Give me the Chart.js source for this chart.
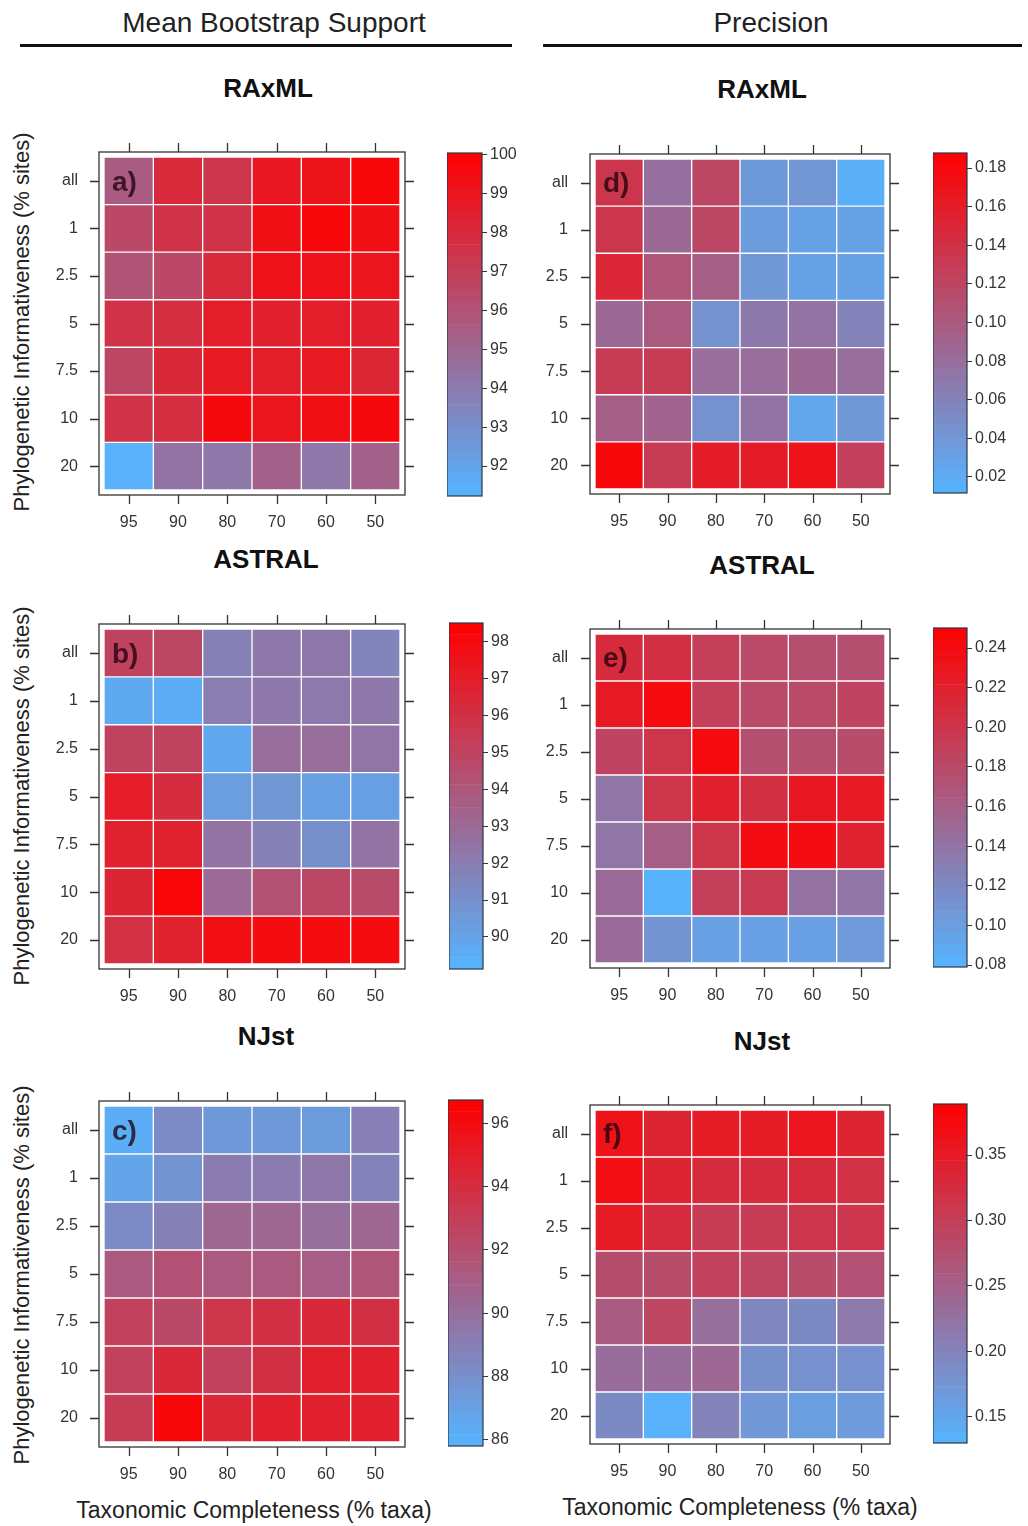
<!DOCTYPE html>
<html>
<head>
<meta charset="utf-8">
<script src="https://cdn.jsdelivr.net/npm/chart.js@4.4.0/dist/chart.umd.min.js"></script>
<style>
  body { margin: 0; background: #fff; }
  #page { position: relative; width: 1028px; height: 1526px; overflow: hidden; font-family: "Liberation Sans", Arial, sans-serif; }
  .head { position: absolute; width: 400px; font-size: 28px; line-height: 30px; color: #222; text-align: center; }
  .rule { position: absolute; top: 44px; height: 3px; background: #111; }
  .ptitle { position: absolute; width: 200px; font-size: 26px; line-height: 28px; font-weight: bold; color: #111; text-align: center; }
  .xlab { position: absolute; width: 500px; font-size: 23px; line-height: 26px; color: #222; text-align: center; }
  .ylab { position: absolute; width: 500px; font-size: 22px; line-height: 24px; color: #222; text-align: center; transform: rotate(-90deg); }
  .box { position: absolute; }
</style>
</head>
<body>
<div id="page">
  <div class="head" style="left:74px; top:8px;">Mean Bootstrap Support</div>
  <div class="head" style="left:571px; top:8px;">Precision</div>
  <div class="rule" style="left:20px; width:492px;"></div>
  <div class="rule" style="left:543px; width:479px;"></div>
  <div class="ylab" style="left:-228px; top:310px;">Phylogenetic Informativeness (% sites)</div>
  <div class="ylab" style="left:-228px; top:784px;">Phylogenetic Informativeness (% sites)</div>
  <div class="ylab" style="left:-228px; top:1263px;">Phylogenetic Informativeness (% sites)</div>
  <div class="xlab" style="left:4px; top:1497px;">Taxonomic Completeness (% taxa)</div>
  <div class="xlab" style="left:490px; top:1494px;">Taxonomic Completeness (% taxa)</div>
</div>
<script>
Chart.defaults.font.family = '"Liberation Sans", Arial, sans-serif';
Chart.defaults.color = '#333';

// categories
var taxa = ['95', '90', '80', '70', '60', '50'];
var sites = ['all', '1', '2.5', '5', '7.5', '10', '20'];

// mean bootstrap support (rows = sites, cols = taxa)
var raxmlSupport = [
  [95.6, 98.0, 97.4, 98.9, 99.1, 99.7],
  [96.5, 97.6, 97.6, 99.3, 99.7, 99.3],
  [96.0, 96.5, 98.0, 99.2, 99.2, 99.0],
  [97.6, 97.8, 98.6, 98.5, 98.6, 98.5],
  [96.6, 98.1, 98.8, 98.6, 98.8, 98.2],
  [97.6, 97.8, 99.6, 99.0, 99.3, 99.6],
  [91.4, 94.4, 94.2, 95.3, 94.2, 95.3]
];
var astralSupport = [
  [95.0, 94.8, 91.8, 92.3, 92.3, 91.6],
  [89.7, 89.5, 92.0, 92.3, 92.2, 92.3],
  [95.0, 95.0, 89.8, 92.8, 92.8, 92.4],
  [97.0, 96.2, 90.3, 90.7, 90.2, 90.2],
  [96.8, 96.8, 92.5, 91.8, 91.0, 92.5],
  [96.6, 98.2, 93.0, 94.3, 94.8, 94.6],
  [96.0, 96.8, 97.8, 97.9, 97.9, 97.9]
];
var njstSupport = [
  [86.2, 88.3, 87.5, 87.5, 87.3, 89.0],
  [86.8, 87.8, 89.2, 89.2, 89.5, 88.8],
  [88.3, 88.9, 90.5, 90.5, 90.0, 90.5],
  [91.3, 91.8, 91.3, 91.3, 91.0, 91.6],
  [92.8, 92.3, 93.5, 93.8, 94.3, 93.8],
  [92.8, 94.3, 92.8, 93.8, 94.8, 94.8],
  [93.1, 96.3, 94.4, 94.8, 94.8, 94.8]
];

// precision
var raxmlPrecision = [
  [0.135, 0.078, 0.118, 0.038, 0.042, 0.017],
  [0.135, 0.085, 0.118, 0.035, 0.030, 0.030],
  [0.150, 0.105, 0.095, 0.040, 0.030, 0.030],
  [0.085, 0.100, 0.045, 0.070, 0.075, 0.060],
  [0.130, 0.130, 0.080, 0.080, 0.085, 0.080],
  [0.095, 0.090, 0.045, 0.075, 0.025, 0.040],
  [0.180, 0.130, 0.160, 0.160, 0.170, 0.125]
];
var astralPrecision = [
  [0.209, 0.205, 0.190, 0.180, 0.175, 0.175],
  [0.225, 0.240, 0.190, 0.180, 0.180, 0.185],
  [0.185, 0.200, 0.240, 0.175, 0.175, 0.178],
  [0.138, 0.200, 0.220, 0.205, 0.228, 0.225],
  [0.138, 0.160, 0.200, 0.238, 0.238, 0.218],
  [0.148, 0.082, 0.190, 0.195, 0.142, 0.138],
  [0.148, 0.110, 0.098, 0.098, 0.098, 0.105]
];
var njstPrecision = [
  [0.363, 0.337, 0.350, 0.350, 0.358, 0.337],
  [0.368, 0.337, 0.327, 0.327, 0.327, 0.319],
  [0.350, 0.327, 0.303, 0.303, 0.311, 0.311],
  [0.278, 0.280, 0.296, 0.288, 0.280, 0.272],
  [0.258, 0.288, 0.230, 0.195, 0.190, 0.215],
  [0.232, 0.232, 0.240, 0.182, 0.180, 0.180],
  [0.190, 0.135, 0.200, 0.172, 0.162, 0.166]
];

// colour key limits and tick labels
var raxmlSupportRange = [91.23, 100.05];
var astralSupportRange = [89.13, 98.51];
var njstSupportRange = [85.81, 96.73];
var raxmlPrecisionRange = [0.0117, 0.1878];
var astralPrecisionRange = [0.079, 0.2501];
var njstPrecisionRange = [0.130, 0.389];

var raxmlSupportTicks = [92, 93, 94, 95, 96, 97, 98, 99, 100];
var astralSupportTicks = [90, 91, 92, 93, 94, 95, 96, 97, 98];
var njstSupportTicks = [86, 88, 90, 92, 94, 96];
var raxmlPrecisionTicks = [0.02, 0.04, 0.06, 0.08, 0.10, 0.12, 0.14, 0.16, 0.18];
var astralPrecisionTicks = [0.08, 0.10, 0.12, 0.14, 0.16, 0.18, 0.20, 0.22, 0.24];
var njstPrecisionTicks = [0.15, 0.20, 0.25, 0.30, 0.35];

var panels = [
  { letter: 'a)', title: 'RAxML', values: raxmlSupport, range: raxmlSupportRange, ticks: raxmlSupportTicks, digits: 0,
    right: false, cells: [104, 157, 400, 490], bar: [447, 153, 35, 343], tpos: [268, 88.5] },
  { letter: 'b)', title: 'ASTRAL', values: astralSupport, range: astralSupportRange, ticks: astralSupportTicks, digits: 0,
    right: false, cells: [104, 629, 400, 964], bar: [449, 623, 34, 346], tpos: [266, 560] },
  { letter: 'c)', title: 'NJst', values: njstSupport, range: njstSupportRange, ticks: njstSupportTicks, digits: 0,
    right: false, cells: [104, 1106, 400, 1442], bar: [448, 1100, 35, 346], tpos: [266, 1037] },
  { letter: 'd)', title: 'RAxML', values: raxmlPrecision, range: raxmlPrecisionRange, ticks: raxmlPrecisionTicks, digits: 2,
    right: true, cells: [595, 159, 885, 489], bar: [933, 153, 34, 340], tpos: [762, 90] },
  { letter: 'e)', title: 'ASTRAL', values: astralPrecision, range: astralPrecisionRange, ticks: astralPrecisionTicks, digits: 2,
    right: true, cells: [595, 634, 885, 963], bar: [933, 628, 34, 339], tpos: [762, 566] },
  { letter: 'f)', title: 'NJst', values: njstPrecision, range: njstPrecisionRange, ticks: njstPrecisionTicks, digits: 2,
    right: true, cells: [595, 1110, 885, 1439], bar: [933, 1104, 34, 339], tpos: [762, 1042] }
];

var page = document.getElementById('page');

// blue -> red ramp
function rampColor(v, range) {
  var t = (v - range[0]) / (range[1] - range[0]);
  t = Math.max(0, Math.min(1, t));
  var r = Math.round(85 + t * (255 - 85));
  var g = Math.round(180 - t * 180);
  var b = Math.round(255 - t * 255);
  return 'rgb(' + r + ',' + g + ',' + b + ')';
}

function addCanvas(left, top, w, h) {
  var div = document.createElement('div');
  div.className = 'box';
  div.style.left = left + 'px';
  div.style.top = top + 'px';
  div.style.width = w + 'px';
  div.style.height = h + 'px';
  var cv = document.createElement('canvas');
  cv.width = w;
  cv.height = h;
  div.appendChild(cv);
  page.appendChild(div);
  return cv;
}

// panel frame, lattice style ticks and the panel letter
var framePlugin = {
  id: 'frame',
  afterDraw: function (chart, args, opts) {
    var a = chart.chartArea, ctx = chart.ctx, g = 5, tl = 9;
    var xs = chart.scales.x, ys = chart.scales.y;
    ctx.save();
    ctx.strokeStyle = '#333';
    ctx.lineWidth = 1.3;
    ctx.strokeRect(a.left - g, a.top - g, a.right - a.left + 2 * g, a.bottom - a.top + 2 * g);
    ctx.beginPath();
    taxa.forEach(function (c, i) {
      var px = Math.round(xs.getPixelForTick(i)) + 0.5;
      ctx.moveTo(px, a.top - g); ctx.lineTo(px, a.top - g - tl);
      ctx.moveTo(px, a.bottom + g); ctx.lineTo(px, a.bottom + g + tl);
    });
    sites.forEach(function (s, i) {
      var py = Math.round(ys.getPixelForValue(i + 0.5)) + 0.5;
      ctx.moveTo(a.left - g, py); ctx.lineTo(a.left - g - tl, py);
      ctx.moveTo(a.right + g, py); ctx.lineTo(a.right + g + tl, py);
    });
    ctx.stroke();
    ctx.font = 'bold 28px "Liberation Sans", Arial, sans-serif';
    ctx.fillStyle = 'rgba(25,0,10,0.75)';
    ctx.textBaseline = 'middle';
    ctx.fillText(opts.letter, a.left + 8, ys.getPixelForValue(0.5) + 2);
    ctx.restore();
  }
};

var keyFrame = {
  id: 'keyFrame',
  afterDraw: function (chart) {
    var a = chart.chartArea, ctx = chart.ctx;
    ctx.save();
    ctx.strokeStyle = '#2d3446';
    ctx.lineWidth = 1.2;
    ctx.strokeRect(a.left, a.top, a.right - a.left, a.bottom - a.top);
    ctx.restore();
  }
};

function makeHeatmap(p) {
  var c = p.cells;
  var left = p.right ? 500 : 0;
  var topPad = 40; // must exceed half label height + tick padding
  var xH = 50;
  var yW = c[0] - left;
  var w = c[2] + 20 - left;
  var h = topPad + (c[3] - c[1]) + xH;
  var cv = addCanvas(left, c[1] - topPad, w, h);

  var datasets = sites.map(function (s, r) {
    return {
      label: s,
      data: taxa.map(function () { return [r, r + 1]; }),
      backgroundColor: p.values[r].map(function (v) { return rampColor(v, p.range); }),
      borderColor: 'rgba(255,255,255,0.08)',
      borderWidth: 1,
      borderSkipped: false,
      grouped: false,
      barPercentage: 1,
      categoryPercentage: 1
    };
  });

  new Chart(cv, {
    type: 'bar',
    data: { labels: taxa, datasets: datasets },
    options: {
      responsive: false,
      animation: false,
      devicePixelRatio: 1,
      events: [],
      layout: { padding: { top: topPad, right: 20, bottom: 0, left: 0 } },
      plugins: { legend: { display: false }, tooltip: { enabled: false }, frame: { letter: p.letter } },
      scales: {
        x: {
          grid: { display: false, drawTicks: false },
          border: { display: false },
          ticks: { padding: 23, font: { size: 16 }, color: '#333', maxRotation: 0 },
          afterFit: function (s) { s.height = xH; }
        },
        y: {
          type: 'linear',
          min: 0,
          max: 7,
          reverse: true,
          grid: { display: false, drawTicks: false },
          border: { display: false },
          afterBuildTicks: function (s) {
            s.ticks = sites.map(function (x, i) { return { value: i + 0.5 }; });
          },
          ticks: {
            autoSkip: false,
            padding: p.right ? 27 : 26,
            font: { size: 16 },
            color: '#333',
            callback: function (v) { return sites[Math.floor(v)]; }
          },
          afterFit: function (s) { s.width = yW; }
        }
      }
    },
    plugins: [framePlugin]
  });
}

function makeKey(p) {
  var b = p.bar, pad = 16, steps = 30;
  var cv = addCanvas(b[0], b[1] - pad, b[2] + 70, b[3] + 2 * pad);
  var lo = p.range[0], hi = p.range[1];
  var datasets = [];
  for (var k = 0; k < steps; k++) {
    var y0 = lo + (hi - lo) * k / steps;
    var y1 = lo + (hi - lo) * (k + 1) / steps;
    datasets.push({
      data: [[y0, y1]],
      backgroundColor: rampColor((y0 + y1) / 2, p.range),
      borderWidth: 0,
      grouped: false,
      barPercentage: 1,
      categoryPercentage: 1
    });
  }
  new Chart(cv, {
    type: 'bar',
    data: { labels: [''], datasets: datasets },
    options: {
      responsive: false,
      animation: false,
      devicePixelRatio: 1,
      events: [],
      layout: { padding: { top: pad, bottom: pad, left: 0, right: 0 } },
      plugins: { legend: { display: false }, tooltip: { enabled: false } },
      scales: {
        x: { display: false },
        y: {
          position: 'right',
          min: lo,
          max: hi,
          grid: { drawOnChartArea: false, drawTicks: true, tickLength: 5, color: '#333' },
          border: { display: false },
          afterBuildTicks: function (s) {
            s.ticks = p.ticks.map(function (v) { return { value: v }; });
          },
          ticks: {
            autoSkip: false,
            padding: 3,
            font: { size: 16 },
            color: '#333',
            callback: function (v) { return Number(v).toFixed(p.digits); }
          },
          afterFit: function (s) { s.width = 70; }
        }
      }
    },
    plugins: [keyFrame]
  });
}

panels.forEach(function (p) {
  var t = document.createElement('div');
  t.className = 'ptitle';
  t.textContent = p.title;
  t.style.left = (p.tpos[0] - 100) + 'px';
  t.style.top = Math.round(p.tpos[1] - 15) + 'px';
  page.appendChild(t);
  makeHeatmap(p);
  makeKey(p);
});
</script>
</body>
</html>
